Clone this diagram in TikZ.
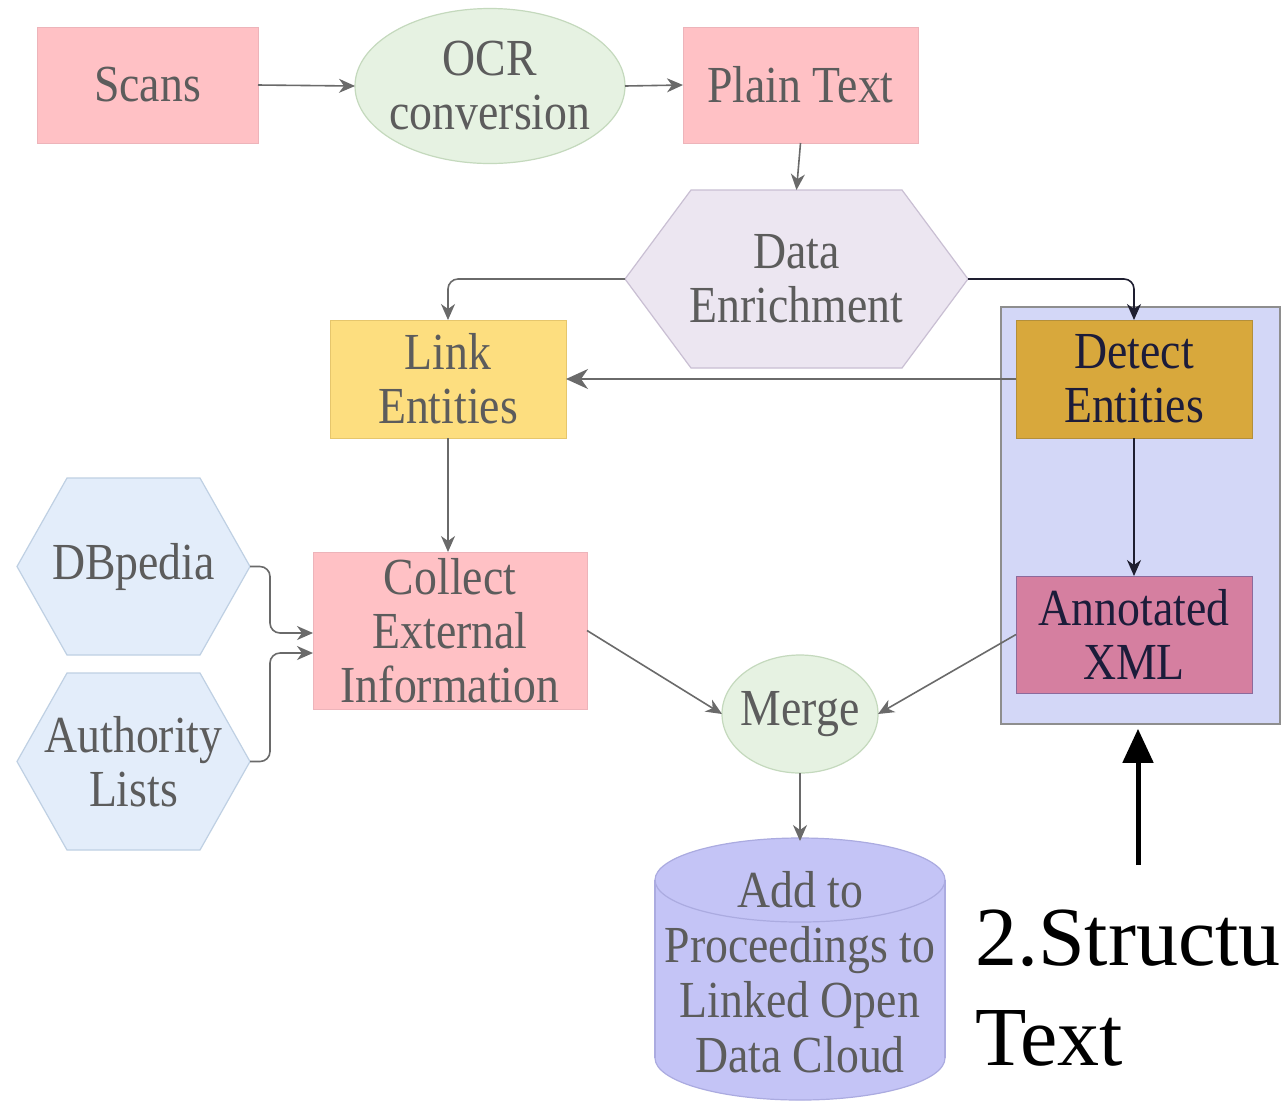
\documentclass[tikz,border=0pt]{standalone}
\usepackage{fontspec}
\setmainfont{Liberation Serif}
\newfontfamily\nodefont{Liberation Serif}[FakeStretch=0.88]
\usetikzlibrary{arrows.meta,shapes.geometric}
\pgfdeclarelayer{background}
\pgfdeclarelayer{bottom}
\pgfsetlayers{bottom,background,main}
\definecolor{txtgrey}{HTML}{5C5C5C}
\definecolor{txtdark}{HTML}{1C1C3A}
\definecolor{conngrey}{HTML}{6A6A6A}
\definecolor{conndark}{HTML}{1E1E30}
\definecolor{pinkfill}{HTML}{FFC1C5}
\definecolor{pinkline}{HTML}{EDB4BA}
\definecolor{greenfill}{HTML}{E6F2E2}
\definecolor{greenline}{HTML}{C4D9BD}
\definecolor{lavfill}{HTML}{ECE6F1}
\definecolor{lavline}{HTML}{C9BFD3}
\definecolor{yellfill}{HTML}{FDDE7F}
\definecolor{yellline}{HTML}{E6C66C}
\definecolor{goldfill}{HTML}{D8A83C}
\definecolor{goldline}{HTML}{B48F3A}
\definecolor{contfill}{HTML}{D3D7F7}
\definecolor{contline}{HTML}{8E8E8E}
\definecolor{rosefill}{HTML}{D57FA0}
\definecolor{roseline}{HTML}{8C6A9C}
\definecolor{bluefill}{HTML}{E3EDFA}
\definecolor{blueline}{HTML}{BFD0E3}
\definecolor{cylfill}{HTML}{C4C4F6}
\definecolor{cylline}{HTML}{ABABE0}
\newcommand\drawhexof[3]{%
  \path[#3] (#1.west) -- ([xshift=#2]#1.north west) -- ([xshift=-#2]#1.north east)
    -- (#1.east) -- ([xshift=-#2]#1.south east) -- ([xshift=#2]#1.south west) -- cycle;}
\begin{document}
\begin{tikzpicture}[x=0.5pt,y=-0.5pt,
  lbl/.style={font=\nodefont\fontsize{26}{27}\selectfont, text=txtgrey, align=center, inner sep=0pt, outer sep=0pt},
  rectnode/.style={lbl, rectangle, line width=0.5pt},
  pinkbox/.style={rectnode, fill=pinkfill, draw=pinkline},
  greenell/.style={ellipse, fill=greenfill, draw=greenline, line width=0.6pt, inner sep=0pt, outer sep=0pt},
  yellbox/.style={rectnode, fill=yellfill, draw=yellline},
  goldbox/.style={rectnode, fill=goldfill, draw=goldline, text=txtdark},
  rosebox/.style={rectnode, fill=rosefill, draw=roseline, text=txtdark},
  contbox/.style={rectangle, fill=contfill, draw=contline, line width=0.8pt, inner sep=0pt},
  hexlbl/.style={lbl, rectangle},
  lavhex/.style={fill=lavfill, draw=lavline, line width=0.6pt},
  bluehex/.style={fill=bluefill, draw=blueline, line width=0.6pt},
  conn/.style={draw=conngrey, line width=0.8pt, -{Stealth[length=8pt,width=7pt,inset=2.5pt]}},
  bigconn/.style={conn, -{Stealth[length=11pt,width=10pt,inset=3.5pt]}},
  darkconn/.style={conn, draw=conndark},
  bigarrow/.style={draw=black, line width=2.5pt, -{Triangle[length=17pt,width=15pt]}},
  legend/.style={font=\fontsize{42}{50}\selectfont, text=black, inner sep=0pt, outer sep=0pt}
]
\useasboundingbox (0,0) rectangle (1284,1105);
\begin{pgfonlayer}{bottom}
  \fill[white] (0,0) rectangle (1284,1105);
\end{pgfonlayer}

% container
\node[contbox, minimum width=139.5pt, minimum height=208.5pt] (box) at (1140.5,515.5) {};

% nodes
\node[pinkbox, minimum width=110.5pt, minimum height=58pt] (scans) at (147.5,85) {Scans};
\node[greenell, minimum width=135pt, minimum height=77.5pt] (ocr) at (490,86) {};
\node[lbl] (ocrtext) at (ocr) {OCR\\conversion};
\node[pinkbox, minimum width=117.5pt, minimum height=58pt] (plain) at (800.5,85) {Plain Text};
\node[hexlbl, minimum width=171.5pt, minimum height=89pt] (de) at (796.5,279) {Data\\Enrichment};
\node[yellbox, minimum width=118pt, minimum height=59pt] (link) at (448,379) {Link\\Entities};
\node[goldbox, minimum width=118pt, minimum height=59pt] (detect) at (1134,379) {Detect\\Entities};
\node[rosebox, minimum width=118pt, minimum height=58.5pt] (annot) at (1134,634.5) {Annotated\\XML};
\node[pinkbox, minimum width=137pt, minimum height=78.5pt] (collect) at (450,630.5) {Collect\\External\\Information};
\node[hexlbl, minimum width=116.5pt, minimum height=88.5pt] (db) at (133.5,566.5) {DBpedia};
\node[hexlbl, minimum width=116.5pt, minimum height=88.5pt] (auth) at (133.5,761.5) {Authority\\Lists};
\node[greenell, minimum width=78pt, minimum height=59pt] (merge) at (800,714) {};
\node[lbl] (mergetext) at (merge) {Merge};
\node[lbl, rectangle, minimum width=145pt, minimum height=131pt, font=\nodefont\fontsize{26}{27.5}\selectfont] (cyl) at (800,972) {Add to\\Proceedings to\\Linked Open\\Data Cloud};

% background shapes
\begin{pgfonlayer}{background}
  \drawhexof{de}{33pt}{lavhex}
  \drawhexof{db}{25pt}{bluehex}
  \drawhexof{auth}{25pt}{bluehex}
  \fill[cylfill] (655,880) rectangle (945,1058);
  \fill[cylfill] (800,1058) ellipse[x radius=145, y radius=42];
  \fill[cylfill] (800,880) ellipse[x radius=145, y radius=42];
  \draw[cylline, line width=0.6pt] (800,880) ellipse[x radius=145, y radius=42];
  \draw[cylline, line width=0.6pt] (655,880) -- (655,1058) (945,880) -- (945,1058);
  \begin{scope}
    \clip (640,1058) rectangle (960,1104);
    \draw[cylline, line width=0.6pt] (800,1058) ellipse[x radius=145, y radius=42];
  \end{scope}
\end{pgfonlayer}

% connectors
\draw[conn] (scans.east) -- (ocr.west);
\draw[conn] (ocr.east) -- (plain.west);
\draw[conn] (plain.south) -- (de.north);
\draw[conn, rounded corners=5pt] (de.west) -| (link.north);
\draw[darkconn, rounded corners=5pt] (de.east) -| (detect.north);
\draw[bigconn] (detect.west) -- (link.east);
\draw[darkconn] (detect.south) -- (annot.north);
\draw[conn] (link.south) -- (collect.north -| link.south);
\draw[conn, rounded corners=5pt] (db.east) -- ++(10pt,0) |- ([yshift=-1.25pt]collect.west);
\draw[conn, rounded corners=5pt] (auth.east) -- ++(10pt,0) |- ([yshift=-11.25pt]collect.west);
\draw[conn] (collect.east) -- (merge.west);
\draw[conn] (annot.west) -- (merge.east);
\draw[conn] (merge.south) -- (cyl.north);

% legend
\node[legend, anchor=base west] (leg1) at (975,965) {2.Structu};
\node[legend, anchor=base west] (leg2) at (975,1065) {Text};
\coordinate (bigstart) at (1138,865);
\draw[bigarrow] (bigstart) -- ([yshift=-2pt]bigstart |- box.south);
\end{tikzpicture}
\end{document}
